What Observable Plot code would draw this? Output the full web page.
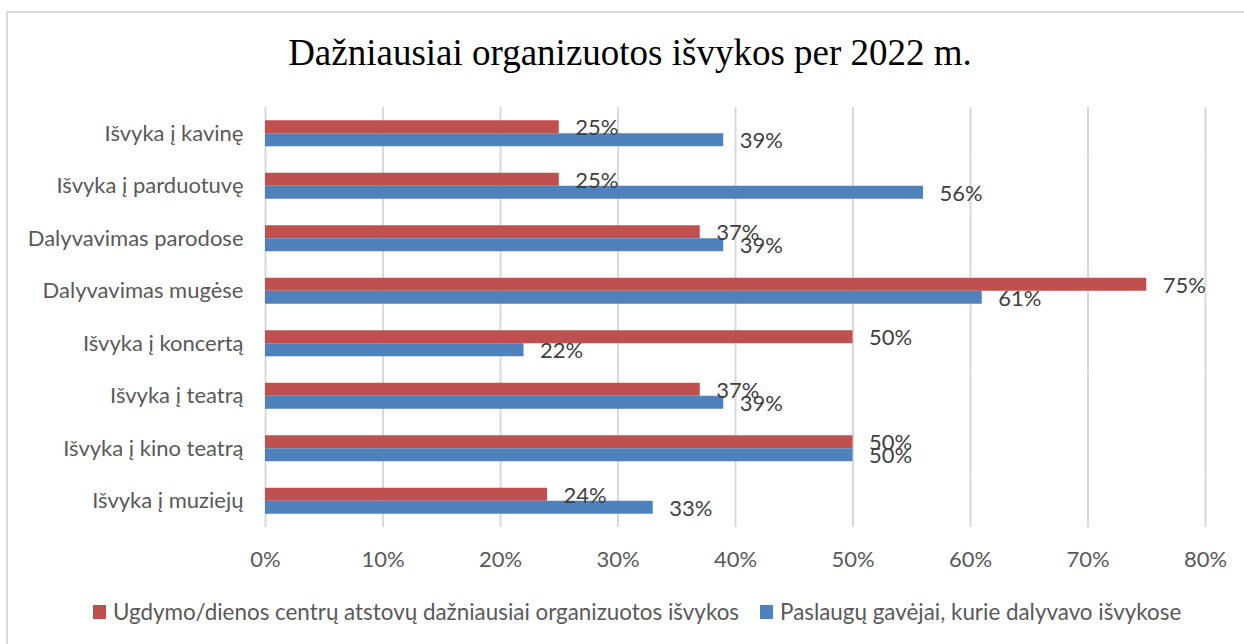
<!DOCTYPE html>
<html><head><meta charset="utf-8">
<script src="https://cdn.jsdelivr.net/npm/d3@7"></script>
<script src="https://cdn.jsdelivr.net/npm/@observablehq/plot@0.6"></script>
<style>
html,body{margin:0;padding:0;background:#fff;width:1244px;height:644px;overflow:hidden;position:relative;}
#frame{position:absolute;left:6px;top:11px;width:1260px;height:660px;border:2px solid #d9d9d9;box-sizing:border-box;}
#title{position:absolute;left:0;width:1260px;top:34px;text-align:center;font-family:"Liberation Serif","Times New Roman",serif;font-size:37px;color:#000;line-height:1;}
#chart{position:absolute;left:0;top:94px;}
#legend{position:absolute;left:93px;top:597px;font-family:Lato,sans-serif;font-size:22.4px;color:#595959;display:flex;align-items:center;white-space:nowrap;line-height:30px;}
.sw{display:inline-block;width:13px;height:14px;margin-right:7px;}
.item{display:flex;align-items:center;margin-right:21px;}
</style></head>
<body>
<div id="frame"></div>
<div id="title">Dažniausiai organizuotos išvykos per 2022 m.</div>
<div id="chart"></div>
<div id="legend"></div>
<script>
const categories = ["Išvyka į kavinę","Išvyka į parduotuvę","Dalyvavimas parodose","Dalyvavimas mugėse","Išvyka į koncertą","Išvyka į teatrą","Išvyka į kino teatrą","Išvyka į muziejų"];
const seriesNames = ["Ugdymo/dienos centrų atstovų dažniausiai organizuotos išvykos","Paslaugų gavėjai, kurie dalyvavo išvykose"];
const redValues = [25,25,37,75,50,37,50,24];
const blueValues = [39,56,39,61,22,39,50,33];
const colors = ["#c0504d","#4f81bd"];
const xTicks = [0,10,20,30,40,50,60,70,80];

const data = [];
categories.forEach((c,i)=>{
  data.push({cat:c, series:seriesNames[0], v:redValues[i]});
  data.push({cat:c, series:seriesNames[1], v:blueValues[i]});
});

const chart = Plot.plot({
  width:1244, height:479,
  marginLeft:265, marginRight:39, marginTop:13, marginBottom:46,
  style:{fontFamily:"Lato, sans-serif", fontSize:"22px", color:"#595959", background:"transparent"},
  x:{domain:[0,80], ticks:xTicks, tickFormat:d=>d+"%", tickSize:0, tickPadding:24, label:null, grid:false},
  fy:{domain:categories, padding:0, round:false, label:null, tickSize:0, tickPadding:22},
  y:{domain:seriesNames, paddingInner:0, paddingOuter:1.02, round:false, axis:null},
  color:{domain:seriesNames, range:colors},
  facet:{data, y:"cat", marginRight:0},
  marks:[
    Plot.ruleX(xTicks, {stroke:"#d9d9d9", strokeWidth:2}),
    Plot.barX(data, {x:"v", y:"series", fy:"cat", fill:"series", insetTop:0, insetBottom:0}),
    Plot.text(data, {x:"v", y:"series", fy:"cat", text:d=>d.v+"%", textAnchor:"start", dx:16, dy:1, fill:"#404040", fontSize:22})
  ]
});
document.getElementById("chart").appendChild(chart);

const lg = document.getElementById("legend");
seriesNames.forEach((s,i)=>{
  const it = document.createElement("span"); it.className="item";
  const sw = document.createElement("span"); sw.className="sw"; sw.style.background=colors[i];
  it.appendChild(sw); it.appendChild(document.createTextNode(s));
  lg.appendChild(it);
});
</script>
</body></html>
